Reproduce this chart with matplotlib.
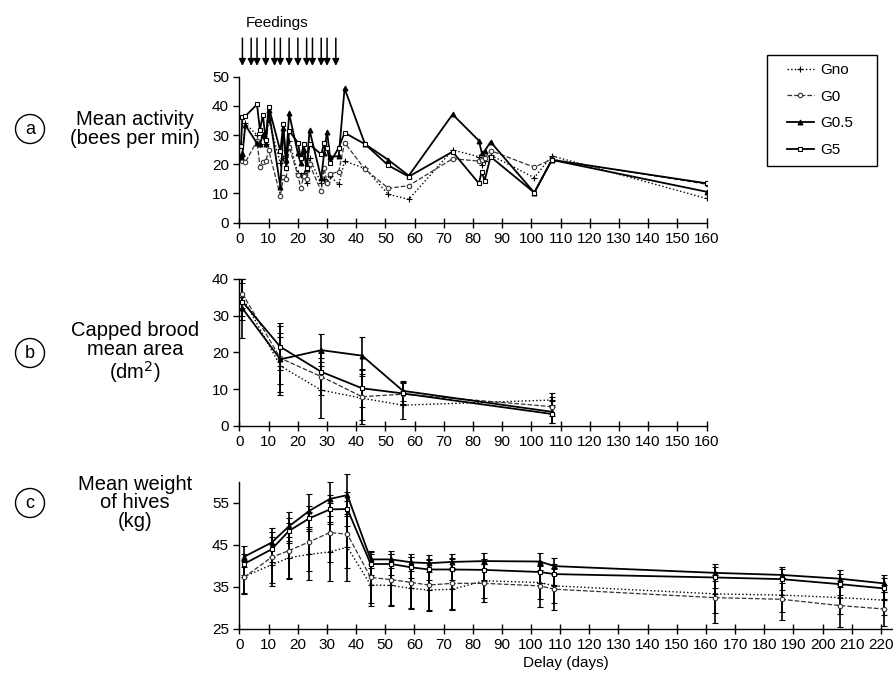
import numpy as np
import matplotlib
matplotlib.use("Agg")
import matplotlib.pyplot as plt
from matplotlib.patches import Ellipse, Rectangle

plt.rcParams["font.family"] = ["Liberation Sans", "DejaVu Sans"]
plt.rcParams["axes.linewidth"] = 1.0

W, H = 893, 678

groups = ["Gno", "G0", "G0.5", "G5"]

# (a) mean activity, bees per min
act_days = [0.5, 1, 2, 6, 7, 8, 9, 10, 14, 15, 16, 17, 20, 21, 22, 23, 24,
            28, 29, 30, 31, 34, 36, 43, 51, 58, 73, 82, 83, 84, 86, 101, 107, 160]
act_gno = [22.6, 23, 34, 30, 27, 30, 27, 35.2, 20.3, 22, 25, 28, 17, 16.5, 16.9, 13.7, 22,
           13.5, 15, 14, 16, 13.1, 21.1, 18.6, 9.7, 8, 24.9, 22.6, 19.7, 21, 23.2, 15.4, 22.9, 8.3]
act_g0 = [21.7, 21, 20.7, 28, 19.2, 20.9, 21, 24.9, 9.2, 15.5, 15.1, 26, 16.3, 11.8, 16, 15, 20,
          10.8, 18.6, 13.5, 16.7, 17.5, 27.4, 18.3, 11.8, 12.7, 21.9, 21.1, 21.5, 22, 24.7, 19, 21.7, 13.2]
act_g05 = [22.6, 23.7, 33.4, 27.2, 26.9, 30, 27, 38.6, 12.3, 32.3, 21.5, 37.4, 23.7, 20.3, 25, 18.3, 31.7,
           15.2, 24, 31.2, 22.6, 22.8, 46, 26.9, 21.5, 16.1, 37.1, 28.1, 24, 24.5, 27.7, 10.3, 21.5, 10.6]
act_g5 = [26.4, 36.3, 36.5, 40.5, 31.7, 36.9, 28.3, 39.7, 24.5, 33.8, 18.8, 31.5, 27.4, 22.1, 26.9, 18.9, 26.8,
          23.4, 27.2, 25.5, 20.5, 25.7, 30.8, 26.9, 19.6, 15.8, 24.3, 13.5, 17.5, 14.4, 22.6, 10.3, 21.5, 13.5]
feeding_days = [1, 4, 6, 9, 12, 14, 17, 20, 23, 25, 28, 30, 33]

# (b) capped brood mean area, dm2
brood_days = [1, 14, 28, 42, 56, 107]
brood_gno = [35, 16.3, 9.7, 7.5, 5.6, 7]
brood_g0 = [36, 18.4, 13.4, 7.9, 8.6, 5.2]
brood_g05 = [32, 18.1, 20.6, 19.1, 9.5, 3.8]
brood_g5 = [33.8, 21.5, 14.7, 10.2, 8.8, 3.2]
brood_err_gno = [5, 8, 7.7, 6, 3.8, 2]
brood_err_g0 = [4, 7, 5, 7.5, 3, 2.5]
brood_err_g05 = [8, 9, 4.4, 5, 2.8, 3]
brood_err_g5 = [5, 6.4, 5, 5, 3, 2.5]

# (c) mean weight of hives, kg
wt_days = [1.5, 11, 17, 24, 31, 37, 45, 52, 59, 65, 73, 84, 103, 108, 163, 186, 206, 221]
wt_gno = [37.4, 40.2, 41.9, 42.7, 43.3, 44.4, 35.4, 35.3, 34.6, 34.2, 34.4, 36.4, 36, 35.2, 33.3, 33, 32.4, 31.8]
wt_g0 = [37.2, 42, 43.6, 45.7, 47.9, 47.5, 37.2, 36.7, 36, 35.4, 35.8, 35.8, 35.2, 34.4, 32.4, 32, 30.5, 29.7]
wt_g05 = [42.1, 45.5, 49.4, 53.1, 55.9, 56.8, 41.5, 41.5, 40.8, 40.6, 40.9, 41.1, 41, 39.9, 38.3, 37.8, 36.9, 35.8]
wt_g5 = [40.4, 43.9, 48.3, 51.3, 53.4, 53.5, 40.4, 40.4, 39.6, 39.1, 39.1, 39, 38.5, 38, 37.2, 36.8, 35.6, 34.6]
wt_err_gno = [4, 5, 5, 6, 7, 8, 5, 5, 5, 5, 5, 4, 4, 4, 4.5, 4, 4, 3.5]
wt_err_g0 = [4, 6, 6.5, 7, 7, 8, 6, 6, 6, 6, 6, 4.5, 5, 5, 6, 5, 5, 4]
wt_err_g05 = [2.5, 3.5, 3.5, 4, 4, 5, 2, 2, 2, 2, 2, 2, 2, 2, 2, 2, 2, 2]
wt_err_g5 = [2.5, 3, 3, 3, 3.5, 4, 2.5, 2.5, 2.5, 2.5, 2.5, 2.5, 2.5, 2.5, 2.5, 2.5, 2.5, 2.5]

STY = {
    "Gno": dict(ls=":", marker="+", color="black", lw=1.0, ms=4.5, mew=0.8),
    "G0": dict(ls="--", marker="o", color="#333333", lw=0.9, ms=3.2, mfc="white", mew=0.8),
    "G0.5": dict(ls="-", marker="^", color="black", lw=1.3, ms=3.5, mew=0.8),
    "G5": dict(ls="-", marker="s", color="black", lw=1.3, ms=3.5, mfc="white", mew=0.8),
}
FS = 11


def axes_px(left, top, right, bottom):
    return [left / W, 1 - bottom / H, (right - left) / W, (bottom - top) / H]


def style_ax(ax, xmax, xstep=10):
    for s in ["top", "right"]:
        ax.spines[s].set_visible(False)
    ax.set_xticks(np.arange(0, xmax + 1, xstep))
    ax.tick_params(axis="x", direction="inout", length=7, width=1, labelsize=FS, pad=3)
    ax.tick_params(axis="y", direction="out", length=4, width=1, labelsize=FS)


def unclip(ax):
    for a in ax.get_children():
        if hasattr(a, "set_clip_on"):
            a.set_clip_on(False)


fig = plt.figure(figsize=(W / 100, H / 100), dpi=100)

# ─── (a) ─────────────────────────────────────────────
ax_a = fig.add_axes(axes_px(239.5, 76.7, 706.5, 222.7))
for g, ys in zip(groups, [act_gno, act_g0, act_g05, act_g5]):
    ax_a.plot(act_days, ys, label=g, **STY[g])
ax_a.set_xlim(0, 160); ax_a.set_ylim(0, 50)
ax_a.set_yticks(range(0, 51, 10))
style_ax(ax_a, 160)
for d in feeding_days:
    ax_a.annotate("", xy=(d, 53.7), xytext=(d, 63.2), annotation_clip=False,
                  arrowprops=dict(arrowstyle="-|>", color="black", lw=1.1,
                                  mutation_scale=10, shrinkA=0, shrinkB=0))
ax_a.text(2.0, 68.4, "Feedings", fontsize=FS, ha="left", va="center", clip_on=False)

# ─── (b) ─────────────────────────────────────────────
ax_b = fig.add_axes(axes_px(239.5, 279, 706.5, 425.7))
for g, ys, es in zip(groups, [brood_gno, brood_g0, brood_g05, brood_g5],
                     [brood_err_gno, brood_err_g0, brood_err_g05, brood_err_g5]):
    ax_b.errorbar(brood_days, ys, yerr=es, capsize=2, elinewidth=1.2, ecolor="black",
                  capthick=1.0, **STY[g])
ax_b.set_xlim(0, 160); ax_b.set_ylim(0, 40)
ax_b.set_yticks(range(0, 41, 10))
style_ax(ax_b, 160)
unclip(ax_b)

# ─── (c) ─────────────────────────────────────────────
ax_c = fig.add_axes(axes_px(239.5, 481.7, 892.5, 628.7))
for g, ys, es in zip(groups, [wt_gno, wt_g0, wt_g05, wt_g5],
                     [wt_err_gno, wt_err_g0, wt_err_g05, wt_err_g5]):
    ax_c.errorbar(wt_days, ys, yerr=es, capsize=2, elinewidth=1.2, ecolor="black",
                  capthick=1.0, **STY[g])
ax_c.set_xlim(0, 224); ax_c.set_ylim(25, 60)
ax_c.set_yticks([25, 35, 45, 55])
style_ax(ax_c, 220)
unclip(ax_c)
ax_c.set_xlabel("Delay (days)", fontsize=FS, labelpad=3)

# legend: frame drawn separately to match the box
fig.add_artist(Rectangle((767 / W, 1 - 166 / H), 110 / W, 111 / H, transform=fig.transFigure,
                         fc="white", ec="black", lw=1.0, zorder=1))
handles, labels = ax_a.get_legend_handles_labels()
leg = fig.legend(handles, labels, loc="upper left", bbox_to_anchor=(781 / W, 1 - 57 / H),
                 borderaxespad=0, frameon=False, fontsize=FS, labelspacing=0.83,
                 handlelength=1.75, handletextpad=0.45, borderpad=0.4)
leg.set_zorder(2)

# panel labels
panel_labels = [("a", 129, ["Mean activity", "(bees per min)"]),
                ("b", 353, ["Capped brood", "mean area", "(dm$^2$)"]),
                ("c", 503, ["Mean weight", "of hives", "(kg)"])]
for letter, yc, lines in panel_labels:
    fig.add_artist(Ellipse((30 / W, 1 - yc / H), 29 / W, 29 / H, transform=fig.transFigure,
                           fc="none", ec="black", lw=1.0))
    fig.text(30 / W, 1 - yc / H, letter, ha="center", va="center", fontsize=13)
    fig.text(135 / W, 1 - yc / H, "\n".join(lines), ha="center", va="center",
             fontsize=14.5, linespacing=0.98)

fig.savefig("out.png", dpi=100, facecolor="white")
